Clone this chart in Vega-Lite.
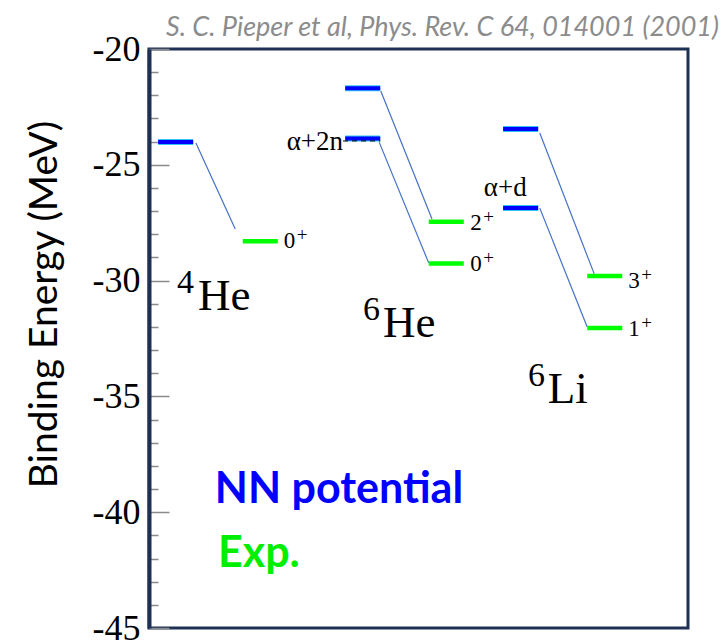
{
  "$schema": "https://vega.github.io/schema/vega-lite/v6.json",
  "width": 539,
  "height": 579,
  "autosize": {"type": "none"},
  "padding": {"left": 149, "top": 49, "right": 40, "bottom": 14},
  "background": "white",
  "config": {
    "view": {"stroke": "#1f3055", "strokeWidth": 3}
  },
  "title": {
    "text": "S. C. Pieper et al, Phys. Rev. C 64, 014001 (2001)",
    "anchor": "end",
    "frame": "group",
    "orient": "top",
    "font": "Lato",
    "fontSize": 27,
    "fontStyle": "italic",
    "fontWeight": "normal",
    "color": "#8c8c8c",
    "baseline": "alphabetic",
    "offset": -32,
    "dx": 31
  },
  "datasets": {
    "levels": [
      {"nucleus": "4He", "type": "NN", "x1": 0.17, "x2": 0.82, "e": -24.02},
      {"nucleus": "4He", "type": "Exp", "x1": 1.74, "x2": 2.39, "e": -28.3},
      {"nucleus": "6He", "type": "NN", "x1": 3.64, "x2": 4.29, "e": -21.7},
      {"nucleus": "6He", "type": "NN", "x1": 3.64, "x2": 4.29, "e": -23.86},
      {"nucleus": "6He", "type": "Exp", "x1": 5.19, "x2": 5.84, "e": -27.46},
      {"nucleus": "6He", "type": "Exp", "x1": 5.19, "x2": 5.84, "e": -29.26},
      {"nucleus": "6Li", "type": "NN", "x1": 6.57, "x2": 7.22, "e": -23.45},
      {"nucleus": "6Li", "type": "NN", "x1": 6.57, "x2": 7.22, "e": -26.87},
      {"nucleus": "6Li", "type": "Exp", "x1": 8.13, "x2": 8.78, "e": -29.8},
      {"nucleus": "6Li", "type": "Exp", "x1": 8.13, "x2": 8.78, "e": -32.05}
    ],
    "links": [
      {"x1": 0.87, "e1": -24.06, "x2": 1.6, "e2": -27.77},
      {"x1": 4.3, "e1": -21.81, "x2": 5.25, "e2": -27.34},
      {"x1": 4.27, "e1": -24.02, "x2": 5.19, "e2": -29.24},
      {"x1": 7.25, "e1": -23.63, "x2": 8.26, "e2": -29.71},
      {"x1": 7.25, "e1": -26.87, "x2": 8.13, "e2": -32.0}
    ],
    "threshold": [
      {"label": "α+2n", "x1": 3.6, "x2": 4.29, "e": -23.97}
    ],
    "states": [
      {"j": "0", "parity": "+", "x": 2.5, "e": -28.29},
      {"j": "2", "parity": "+", "x": 5.96, "e": -27.5},
      {"j": "0", "parity": "+", "x": 5.96, "e": -29.3},
      {"j": "3", "parity": "+", "x": 8.89, "e": -30.0},
      {"j": "1", "parity": "+", "x": 8.89, "e": -32.1}
    ],
    "channels": [
      {"label": "α+2n", "x": 3.6, "e": -24.36, "align": "right"},
      {"label": "α+d", "x": 6.61, "e": -26.34, "align": "center"}
    ],
    "nuclei": [
      {"mass": "4", "element": "He", "xm": 0.52, "xe": 0.91, "e": -31.27},
      {"mass": "6", "element": "He", "xm": 3.97, "xe": 4.34, "e": -32.44},
      {"mass": "6", "element": "Li", "xm": 7.03, "xe": 7.4, "e": -35.28}
    ],
    "legend": [
      {"label": "NN potential", "x": 1.22, "e": -39.6},
      {"label": "Exp.", "x": 1.28, "e": -42.37}
    ]
  },
  "layer": [
    {
      "data": {"name": "levels"},
      "transform": [{"filter": "datum.type === 'NN'"}],
      "mark": {"type": "rule", "stroke": "#2ec5f5", "strokeWidth": 6},
      "encoding": {
        "x": {"field": "x1", "type": "quantitative", "scale": {"domain": [0, 10], "nice": false, "zero": false}, "axis": null},
        "x2": {"field": "x2"},
        "y": {
          "field": "e", "type": "quantitative",
          "scale": {"domain": [-45, -20], "nice": false, "zero": false},
          "axis": {
            "orient": "left",
            "values": [-45, -44, -43, -42, -41, -40, -39, -38, -37, -36, -35, -34, -33, -32, -31, -30, -29, -28, -27, -26, -25, -24, -23, -22, -21, -20],
            "tickCount": 40,
            "tickSize": {"condition": {"test": "datum.value % 5 === 0", "value": -20}, "value": -9},
            "tickColor": "#8a8a8a",
            "tickWidth": 1.5,
            "domainColor": "#1f3055",
            "domainWidth": 4,
            "grid": false,
            "labelExpr": "datum.value % 5 === 0 ? toString(datum.value) : ''",
            "labelFont": "Liberation Serif",
            "labelFontSize": 36,
            "labelColor": "#000000",
            "labelPadding": 29,
            "labelFlush": false,
            "labelOverlap": false,
            "title": "Binding Energy (MeV)",
            "titleFont": "Lato",
            "titleFontSize": 39,
            "titleFontWeight": "normal",
            "titleColor": "#000000",
            "titleAngle": -90,
            "titleAlign": "center",
            "titleBaseline": "alphabetic",
            "titleX": -93,
            "titleY": 255
          }
        }
      }
    },
    {
      "data": {"name": "links"},
      "mark": {"type": "rule", "stroke": "#4472c4", "strokeWidth": 1.2},
      "encoding": {
        "x": {"field": "x1", "type": "quantitative"},
        "x2": {"field": "x2"},
        "y": {"field": "e1", "type": "quantitative"},
        "y2": {"field": "e2"}
      }
    },
    {
      "data": {"name": "levels"},
      "transform": [{"filter": "datum.type === 'NN'"}],
      "mark": {"type": "rule", "stroke": "#0000ff", "strokeWidth": 4},
      "encoding": {
        "x": {"field": "x1", "type": "quantitative"},
        "x2": {"field": "x2"},
        "y": {"field": "e", "type": "quantitative"}
      }
    },
    {
      "data": {"name": "levels"},
      "transform": [{"filter": "datum.type === 'Exp'"}],
      "mark": {"type": "rule", "stroke": "#00ff00", "strokeWidth": 4.5},
      "encoding": {
        "x": {"field": "x1", "type": "quantitative"},
        "x2": {"field": "x2"},
        "y": {"field": "e", "type": "quantitative"}
      }
    },
    {
      "data": {"name": "threshold"},
      "mark": {"type": "rule", "stroke": "#000000", "strokeWidth": 1, "strokeDash": [5, 4]},
      "encoding": {
        "x": {"field": "x1", "type": "quantitative"},
        "x2": {"field": "x2"},
        "y": {"field": "e", "type": "quantitative"}
      }
    },
    {
      "data": {"name": "states"},
      "mark": {"type": "text", "font": "Liberation Serif", "fontSize": 23, "align": "left", "baseline": "middle", "color": "#000000"},
      "encoding": {
        "x": {"field": "x", "type": "quantitative"},
        "y": {"field": "e", "type": "quantitative"},
        "text": {"field": "j"}
      }
    },
    {
      "data": {"name": "states"},
      "mark": {"type": "text", "font": "Liberation Serif", "fontSize": 19, "align": "left", "baseline": "middle", "dx": 13, "dy": -6, "color": "#000000"},
      "encoding": {
        "x": {"field": "x", "type": "quantitative"},
        "y": {"field": "e", "type": "quantitative"},
        "text": {"field": "parity"}
      }
    },
    {
      "data": {"name": "channels"},
      "transform": [{"filter": "datum.align === 'right'"}],
      "mark": {"type": "text", "font": "Liberation Serif", "fontSize": 27, "align": "right", "baseline": "alphabetic", "color": "#000000"},
      "encoding": {
        "x": {"field": "x", "type": "quantitative"},
        "y": {"field": "e", "type": "quantitative"},
        "text": {"field": "label"}
      }
    },
    {
      "data": {"name": "channels"},
      "transform": [{"filter": "datum.align === 'center'"}],
      "mark": {"type": "text", "font": "Liberation Serif", "fontSize": 27, "align": "center", "baseline": "alphabetic", "color": "#000000"},
      "encoding": {
        "x": {"field": "x", "type": "quantitative"},
        "y": {"field": "e", "type": "quantitative"},
        "text": {"field": "label"}
      }
    },
    {
      "data": {"name": "nuclei"},
      "mark": {"type": "text", "font": "Liberation Serif", "fontSize": 34, "align": "left", "baseline": "alphabetic", "dy": -17, "color": "#000000"},
      "encoding": {
        "x": {"field": "xm", "type": "quantitative"},
        "y": {"field": "e", "type": "quantitative"},
        "text": {"field": "mass"}
      }
    },
    {
      "data": {"name": "nuclei"},
      "mark": {"type": "text", "font": "Liberation Serif", "fontSize": 45, "align": "left", "baseline": "alphabetic", "color": "#000000"},
      "encoding": {
        "x": {"field": "xe", "type": "quantitative"},
        "y": {"field": "e", "type": "quantitative"},
        "text": {"field": "element"}
      }
    },
    {
      "data": {"name": "legend"},
      "mark": {"type": "text", "font": "Lato", "fontSize": 43, "fontWeight": "bold", "align": "left", "baseline": "alphabetic"},
      "encoding": {
        "x": {"field": "x", "type": "quantitative"},
        "y": {"field": "e", "type": "quantitative"},
        "text": {"field": "label"},
        "color": {"field": "label", "type": "nominal", "scale": {"domain": ["NN potential", "Exp."], "range": ["#0000ff", "#00ee00"]}, "legend": null}
      }
    }
  ]
}
